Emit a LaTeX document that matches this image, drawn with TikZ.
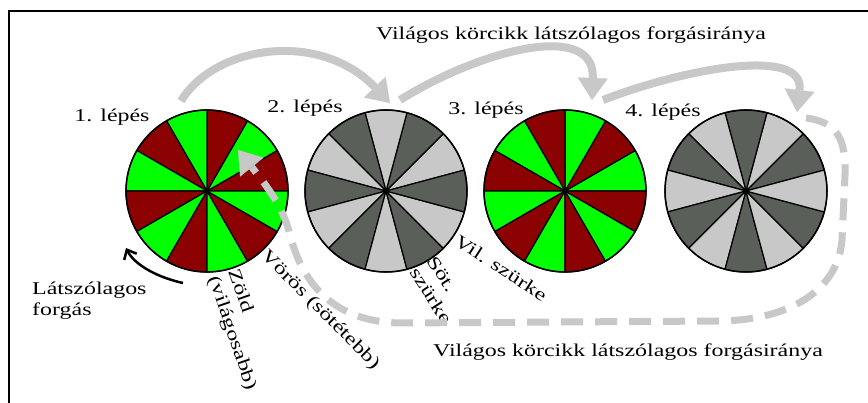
\documentclass[tikz,border=0pt]{standalone}
\usepackage{fontspec}
\setmainfont[FakeStretch=1.33]{Liberation Serif}
\usetikzlibrary{arrows.meta}
\definecolor{wred}{RGB}{139,0,0}
\definecolor{wgreen}{RGB}{0,255,0}
\definecolor{lgray}{RGB}{200,200,200}
\definecolor{dgray}{RGB}{90,95,90}
\definecolor{agray}{RGB}{200,200,200}
\newcommand\mywheel[4]{%
\begin{scope}[shift={#1}, yscale=-1]
\foreach \k in {0,...,11}{
  \pgfmathsetmacro\a{#2+30*\k}
  \ifodd\k \def\c{#4}\else \def\c{#3}\fi
  \filldraw[fill=\c, draw=black, line width=1.2pt, line join=round]
    (0,0) -- (\a:81) arc[start angle=\a, delta angle=30, radius=81] -- cycle;
}
\fill (0,0) circle[radius=2.3];
\end{scope}}
\begin{document}
\begin{tikzpicture}[x=1pt,y=-1pt,
  font=\fontsize{18}{21}\selectfont,
  lbl/.style={inner sep=0pt},
  wheelrim/.style={circle, draw, line width=1.5pt, minimum size=162pt, inner sep=0pt},
  grayarrow/.style={line width=8pt, draw=agray, -{Triangle[length=22pt,width=30pt,line width=0.1pt]}},
  dasharrow/.style={line width=7pt, draw=agray, dash pattern=on 22pt off 12pt, -{Triangle[length=22pt,width=30pt,line width=0.1pt]}}]
\useasboundingbox (0,0) rectangle (868,403);
\fill[white] (0,0) rectangle (868,403);
\draw[line width=2.5pt] (9,403) -- (9,11) -- (868,11);

% wheels
\mywheel{(207,191)}{0}{wred}{wgreen}
\mywheel{(386,191)}{15}{lgray}{dgray}
\mywheel{(565,191)}{0}{wgreen}{wred}
\mywheel{(746,191)}{15}{dgray}{lgray}
\node[wheelrim] (w1) at (207,191) {};
\node[wheelrim] (w2) at (386,191) {};
\node[wheelrim] (w3) at (565,191) {};
\node[wheelrim] (w4) at (746,191) {};

% step labels
\node[lbl] (s1) at (112,117) {1. lépés};
\node[lbl] (s2) at (305,108) {2. lépés};
\node[lbl] (s3) at (486,110) {3. lépés};
\node[lbl] (s4) at (663,112) {4. lépés};

\node[lbl] (ttop) at (571,35) {Világos körcikk látszólagos forgásiránya};
\node[lbl] (tbot) at (628,352) {Világos körcikk látszólagos forgásiránya};

\node[lbl, align=left, anchor=west] (lf) at (32,301) {Látszólagos\\forgás};

\node[lbl, align=left, rotate=-71] (zold) at (242,330) {Zöld\\(világosabb)};
\node[lbl, rotate=-45] (voros) at (320,310) {Vörös (sötétebb)};
\node[lbl, align=left, rotate=-57] (sot) at (440,290) {Söt.\\szürke};
\node[lbl, rotate=-33] (vil) at (501,268) {Vil. szürke};

% black rotation arrow
\coordinate (ba) at (183,283);
\coordinate (bb) at (126,248);
\draw[line width=2.5pt, -{Straight Barb[length=8pt,width=14pt]}] (ba) .. controls (160,278) and (135,266) .. (bb);

% gray arrows
\coordinate (a1s) at (181,101);
\coordinate (a1e) at (390,103);
\coordinate (a2s) at (400,100);
\coordinate (a2e) at (592,100);
\coordinate (a3s) at (603,100);
\coordinate (a3e) at (797,112);
\draw[grayarrow] (a1s) .. controls (215,45) and (320,30) .. (a1e);
\draw[grayarrow] (a2s) .. controls (480,50) and (595,20) .. (a2e);
\draw[grayarrow] (a3s) .. controls (680,70) and (805,45) .. (a3e);

% dashed loop
\coordinate (ds) at (806,118);
\coordinate (de) at (238,150);
\draw[dasharrow] (ds) .. controls (838,122) and (846,140) .. (845,175)
  -- (842,240) .. controls (838,290) and (790,320) .. (720,321)
  -- (400,323) .. controls (335,322) and (303,285) .. (290,235)
  .. controls (284,212) and (275,196) .. (de);
\end{tikzpicture}
\end{document}
